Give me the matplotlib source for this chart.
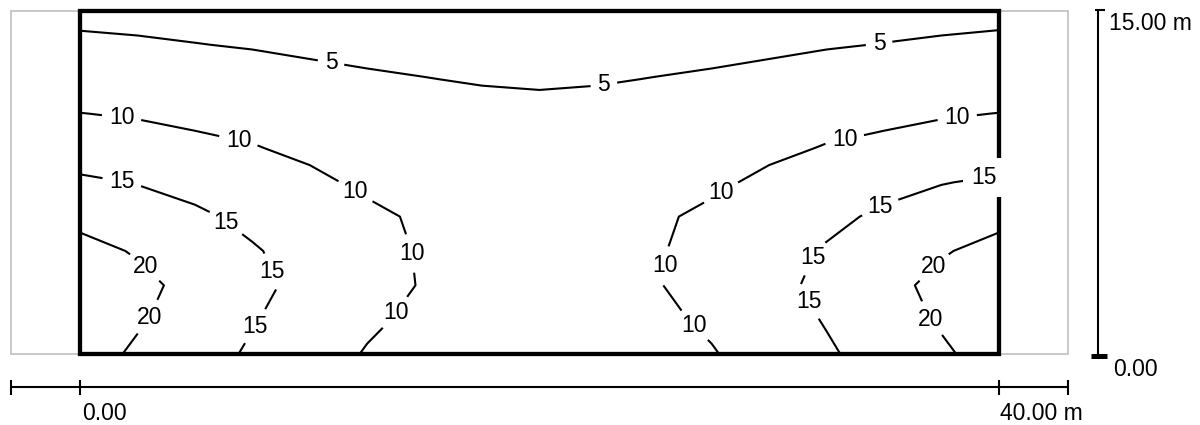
import numpy as np
import matplotlib
matplotlib.use('Agg')
import matplotlib.pyplot as plt
from matplotlib.patches import Rectangle

plt.rcParams['font.family'] = ['Liberation Sans', 'DejaVu Sans']

# ---- data: field values (grid rows bottom -> top) ----
x_coords = [0, 2.5, 5, 7.5, 10, 12.5, 15, 17.5, 20, 22.5, 25, 27.5, 30, 32.5, 35, 37.5, 40]
y_coords = [0, 1.5, 3, 4.5, 6, 7.5, 9, 10.5, 12, 13.5, 15]

row_y00 = [22.0, 19.3, 16.9, 14.4, 12.0, 9.7, 8.5, 7.8, 7.5, 7.8, 8.5, 9.7, 12.0, 14.4, 16.9, 19.3, 22.0]
row_y15 = [23.2, 20.5, 17.9, 15.3, 12.9, 10.7, 9.0, 8.2, 7.9, 8.2, 9.0, 10.7, 12.9, 15.3, 17.9, 20.5, 23.2]
row_y30 = [23.5, 21.2, 18.6, 16.0, 13.8, 11.6, 9.7, 8.6, 8.3, 8.6, 9.7, 11.6, 13.8, 16.0, 18.6, 21.2, 23.5]
row_y45 = [21.5, 19.6, 17.3, 15.4, 13.3, 11.4, 9.6, 8.6, 8.2, 8.6, 9.6, 11.4, 13.3, 15.4, 17.3, 19.6, 21.5]
row_y60 = [18.7, 17.4, 15.8, 13.9, 12.2, 10.8, 9.4, 8.4, 8.1, 8.4, 9.4, 10.8, 12.2, 13.9, 15.8, 17.4, 18.7]
row_y75 = [15.9, 14.8, 13.5, 12.1, 10.8, 9.3, 8.3, 7.6, 7.3, 7.6, 8.3, 9.3, 10.8, 12.1, 13.5, 14.8, 15.7]
row_y90 = [12.0, 11.5, 10.8, 10.2, 9.2, 8.3, 7.6, 7.0, 6.8, 7.0, 7.6, 8.3, 9.2, 10.2, 10.8, 11.5, 12.0]
row_y105 = [10.05, 9.7, 9.2, 8.7, 8.0, 7.4, 6.8, 6.3, 6.1, 6.3, 6.8, 7.4, 8.0, 8.7, 9.2, 9.7, 10.05]
row_y120 = [7.9, 7.6, 7.1, 6.6, 6.0, 5.5, 5.1, 4.7, 4.5, 4.7, 5.1, 5.5, 6.0, 6.6, 7.1, 7.6, 7.9]
row_y135 = [5.7, 5.45, 5.1, 4.75, 4.3, 3.9, 3.6, 3.4, 3.3, 3.4, 3.6, 3.9, 4.3, 4.75, 5.1, 5.45, 5.75]
row_y150 = [4.0, 3.8, 3.5, 3.2, 2.9, 2.6, 2.4, 2.2, 2.1, 2.2, 2.4, 2.6, 2.9, 3.2, 3.5, 3.8, 4.0]

levels = [5, 10, 15, 20]

# label anchor positions (m)
label_x = [10.93, 22.82, 34.79,
           1.82, 6.90, 12.02, 14.84, 13.75,
           38.18, 33.28, 27.85, 25.25, 26.68,
           1.82, 6.51, 8.33, 7.68,
           39.35, 34.79, 31.97, 31.84,
           2.91, 3.25, 37.09, 36.75]
label_y = [12.73, 11.69, 13.56,
           10.42, 9.33, 7.15, 4.45, 1.79,
           10.42, 9.42, 7.15, 3.88, 1.18,
           7.50, 5.93, 3.58, 1.18,
           7.81, 6.50, 4.19, 2.35,
           3.88, 1.48, 3.88, 1.40]

Z = np.array([row_y00, row_y15, row_y30, row_y45, row_y60, row_y75,
              row_y90, row_y105, row_y120, row_y135, row_y150])
X, Y = np.meshgrid(x_coords, y_coords)

FS = 16.5

fig = plt.figure(figsize=(12, 4.25), dpi=100)
ax = fig.add_axes([0, 0, 1, 1])
ax.set_xlim(-3.483, 48.76)
ax.set_ylim(-3.10, 15.459)
ax.axis('off')

# outer (gray) model boundary
ax.add_patch(Rectangle((-3, 0), 46, 15, fill=False, ec='#c8c8c8', lw=1.4, zorder=1))

cs = ax.contour(X, Y, Z, levels=levels, colors='black', linewidths=1.5, zorder=2)

# inner (black) boundary
ax.add_patch(Rectangle((0, 0), 40, 15, fill=False, ec='black', lw=3.1, zorder=3,
                       joinstyle='miter'))

texts = ax.clabel(cs, fmt='%d', fontsize=FS, inline=True, inline_spacing=7,
                  manual=list(zip(label_x, label_y)))
for t in texts:
    t.set_rotation(0)
    t.set_zorder(5)
    if t.get_position()[0] > 39:
        t.set_bbox(dict(boxstyle='square,pad=0.35', fc='white', ec='none'))

# horizontal scale bar
hbar_y = -1.44
hbar_ticks = [-3, 0, 40, 43]
ax.plot([hbar_ticks[0], hbar_ticks[-1]], [hbar_y, hbar_y], color='black', lw=1.5,
        solid_capstyle='butt')
for tx in hbar_ticks:
    ax.plot([tx, tx], [hbar_y + 0.31, hbar_y - 0.35], color='black', lw=1.5,
            solid_capstyle='butt')
ax.text(0.09, -2.87, '0.00', fontsize=FS, ha='left', va='baseline')
ax.text(40.05, -2.87, '40.00 m', fontsize=FS, ha='left', va='baseline')

# vertical scale bar
vbar_x = 44.32
ax.plot([vbar_x, vbar_x], [-0.07, 15.02], color='black', lw=1.5, solid_capstyle='butt')
ax.plot([44.19, 44.62], [15.02, 15.02], color='black', lw=1.5, solid_capstyle='butt')
ax.plot([44.01, 44.71], [-0.07, -0.07], color='black', lw=3.6, solid_capstyle='butt')
ax.text(44.8, 14.15, '15.00 m', fontsize=FS, ha='left', va='baseline')
ax.text(44.97, -0.96, '0.00', fontsize=FS, ha='left', va='baseline')

fig.savefig('out.png', dpi=100)
